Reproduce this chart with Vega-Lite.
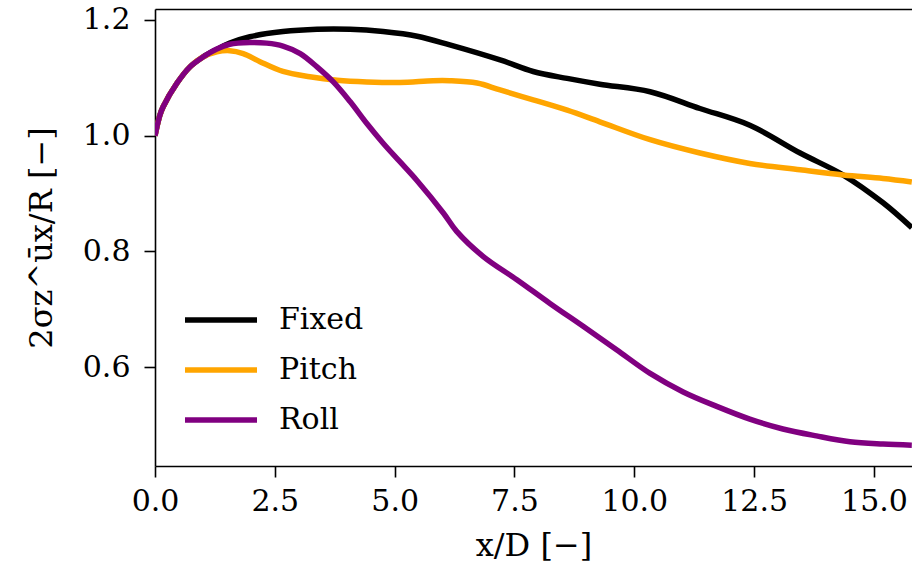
{
  "$schema": "https://vega.github.io/schema/vega-lite/v6.json",
  "width": 757,
  "height": 457,
  "autosize": {"type": "none"},
  "padding": {"left": 155, "top": 9, "right": 0, "bottom": 113},
  "background": "white",
  "config": {
    "view": {"stroke": null},
    "font": "DejaVu Serif",
    "axis": {
      "domainColor": "black",
      "domainWidth": 1.6,
      "tickColor": "black",
      "tickWidth": 1.6,
      "tickSize": 11,
      "labelFont": "DejaVu Serif",
      "labelFontSize": 30,
      "labelColor": "black",
      "titleFont": "DejaVu Serif",
      "titleFontSize": 32,
      "titleFontWeight": "normal",
      "titleColor": "black",
      "grid": false
    }
  },
  "data": {
    "values": [
      {"series": "Fixed", "x": 0, "y": 1.0},
      {"series": "Fixed", "x": 0.1, "y": 1.035},
      {"series": "Fixed", "x": 0.17, "y": 1.05},
      {"series": "Fixed", "x": 0.46, "y": 1.091},
      {"series": "Fixed", "x": 0.73, "y": 1.119},
      {"series": "Fixed", "x": 1.0, "y": 1.136},
      {"series": "Fixed", "x": 1.29, "y": 1.149},
      {"series": "Fixed", "x": 1.56, "y": 1.16},
      {"series": "Fixed", "x": 1.98, "y": 1.171},
      {"series": "Fixed", "x": 2.67, "y": 1.18},
      {"series": "Fixed", "x": 3.38, "y": 1.184},
      {"series": "Fixed", "x": 4.07, "y": 1.184},
      {"series": "Fixed", "x": 4.76, "y": 1.18},
      {"series": "Fixed", "x": 5.47, "y": 1.172},
      {"series": "Fixed", "x": 6.15, "y": 1.157},
      {"series": "Fixed", "x": 7.2, "y": 1.131},
      {"series": "Fixed", "x": 7.89, "y": 1.111},
      {"series": "Fixed", "x": 8.6, "y": 1.099},
      {"series": "Fixed", "x": 9.28, "y": 1.089},
      {"series": "Fixed", "x": 10.33, "y": 1.076},
      {"series": "Fixed", "x": 11.37, "y": 1.047},
      {"series": "Fixed", "x": 12.41, "y": 1.018},
      {"series": "Fixed", "x": 13.46, "y": 0.97},
      {"series": "Fixed", "x": 14.36, "y": 0.932},
      {"series": "Fixed", "x": 15.19, "y": 0.884},
      {"series": "Fixed", "x": 15.79, "y": 0.841},
      {"series": "Pitch", "x": 0, "y": 1.0},
      {"series": "Pitch", "x": 0.1, "y": 1.035},
      {"series": "Pitch", "x": 0.17, "y": 1.05},
      {"series": "Pitch", "x": 0.46, "y": 1.091},
      {"series": "Pitch", "x": 0.73, "y": 1.119},
      {"series": "Pitch", "x": 1.0, "y": 1.136},
      {"series": "Pitch", "x": 1.29, "y": 1.145},
      {"series": "Pitch", "x": 1.56, "y": 1.147},
      {"series": "Pitch", "x": 1.84, "y": 1.142},
      {"series": "Pitch", "x": 2.19, "y": 1.128},
      {"series": "Pitch", "x": 2.67, "y": 1.111},
      {"series": "Pitch", "x": 3.23, "y": 1.102},
      {"series": "Pitch", "x": 3.8, "y": 1.096},
      {"series": "Pitch", "x": 4.42, "y": 1.093},
      {"series": "Pitch", "x": 5.11, "y": 1.092},
      {"series": "Pitch", "x": 5.8, "y": 1.095},
      {"series": "Pitch", "x": 6.15, "y": 1.095},
      {"series": "Pitch", "x": 6.72, "y": 1.091},
      {"series": "Pitch", "x": 7.2, "y": 1.079},
      {"series": "Pitch", "x": 7.89, "y": 1.062},
      {"series": "Pitch", "x": 8.6, "y": 1.044},
      {"series": "Pitch", "x": 9.28, "y": 1.024},
      {"series": "Pitch", "x": 10.33, "y": 0.993},
      {"series": "Pitch", "x": 11.37, "y": 0.97},
      {"series": "Pitch", "x": 12.41, "y": 0.952},
      {"series": "Pitch", "x": 13.46, "y": 0.941},
      {"series": "Pitch", "x": 14.36, "y": 0.932},
      {"series": "Pitch", "x": 15.19, "y": 0.926},
      {"series": "Pitch", "x": 15.79, "y": 0.92},
      {"series": "Roll", "x": 0, "y": 1.0},
      {"series": "Roll", "x": 0.1, "y": 1.035},
      {"series": "Roll", "x": 0.17, "y": 1.05},
      {"series": "Roll", "x": 0.46, "y": 1.091},
      {"series": "Roll", "x": 0.73, "y": 1.119},
      {"series": "Roll", "x": 1.0, "y": 1.136},
      {"series": "Roll", "x": 1.29, "y": 1.15},
      {"series": "Roll", "x": 1.56, "y": 1.158},
      {"series": "Roll", "x": 1.98, "y": 1.161},
      {"series": "Roll", "x": 2.33, "y": 1.16},
      {"series": "Roll", "x": 2.67, "y": 1.155},
      {"series": "Roll", "x": 3.03, "y": 1.142},
      {"series": "Roll", "x": 3.38, "y": 1.119},
      {"series": "Roll", "x": 3.72, "y": 1.093},
      {"series": "Roll", "x": 4.07, "y": 1.059},
      {"series": "Roll", "x": 4.42, "y": 1.021},
      {"series": "Roll", "x": 4.76, "y": 0.987},
      {"series": "Roll", "x": 5.11, "y": 0.955},
      {"series": "Roll", "x": 5.46, "y": 0.923},
      {"series": "Roll", "x": 6.02, "y": 0.866},
      {"series": "Roll", "x": 6.29, "y": 0.835},
      {"series": "Roll", "x": 6.85, "y": 0.791},
      {"series": "Roll", "x": 7.55, "y": 0.751},
      {"series": "Roll", "x": 8.24, "y": 0.71},
      {"series": "Roll", "x": 8.94, "y": 0.67},
      {"series": "Roll", "x": 9.63, "y": 0.63},
      {"series": "Roll", "x": 10.33, "y": 0.589},
      {"series": "Roll", "x": 11.02, "y": 0.557},
      {"series": "Roll", "x": 11.72, "y": 0.532},
      {"series": "Roll", "x": 12.41, "y": 0.51},
      {"series": "Roll", "x": 13.1, "y": 0.493},
      {"series": "Roll", "x": 13.8, "y": 0.481},
      {"series": "Roll", "x": 14.5, "y": 0.471},
      {"series": "Roll", "x": 15.19, "y": 0.467},
      {"series": "Roll", "x": 15.79, "y": 0.465}
    ]
  },
  "resolve": {"axis": {"x": "independent"}},
  "layer": [
    {
      "mark": {"type": "line", "strokeWidth": 5.5, "interpolate": "catmull-rom", "clip": true},
      "encoding": {
        "x": {
          "field": "x", "type": "quantitative",
          "scale": {"domain": [0, 15.794], "nice": false, "zero": false},
          "axis": {
            "orient": "bottom",
            "values": [0, 2.5, 5, 7.5, 10, 12.5, 15],
            "format": ".1f",
            "labelPadding": 9,
            "labelFlush": false,
            "title": "x/D [−]",
            "titlePadding": 14
          }
        },
        "y": {
          "field": "y", "type": "quantitative",
          "scale": {"domain": [0.429, 1.219], "nice": false, "zero": false},
          "axis": {
            "values": [0.6, 0.8, 1.0, 1.2],
            "format": ".1f",
            "labelPadding": 14,
            "labelFlush": false,
            "title": "2σz^ūx/R [−]",
            "titlePadding": 24
          }
        },
        "color": {
          "field": "series", "type": "nominal",
          "scale": {"domain": ["Fixed", "Pitch", "Roll"], "range": ["#000000", "#FFA500", "#800080"]},
          "legend": {
            "orient": "none",
            "legendX": 27,
            "legendY": 286,
            "title": null,
            "padding": 0,
            "symbolType": "stroke",
            "symbolSize": 5184,
            "symbolStrokeWidth": 5.5,
            "clipHeight": 50,
            "rowPadding": 0,
            "labelOffset": 19,
            "labelFont": "DejaVu Serif",
            "labelFontSize": 30,
            "labelColor": "black"
          }
        }
      }
    },
    {
      "mark": {"type": "line", "strokeOpacity": 0, "clip": true},
      "encoding": {
        "x": {
          "field": "x", "type": "quantitative",
          "axis": {"orient": "top", "labels": false, "ticks": false, "title": null, "domain": true}
        },
        "y": {"field": "y", "type": "quantitative"},
        "detail": {"field": "series"}
      }
    }
  ]
}
